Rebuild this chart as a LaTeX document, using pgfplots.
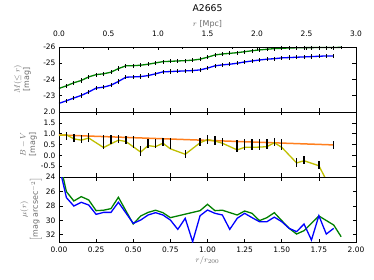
\documentclass[border=0pt]{standalone}
\usepackage{pgfplots}
\pgfplotsset{compat=1.18}
\usepackage{fontspec}
\setmainfont{DejaVu Sans}
\definecolor{mgreen}{rgb}{0,0.5,0}
\definecolor{mblue}{rgb}{0,0,1}
\definecolor{morange}{RGB}{255,127,30}
\definecolor{myellow}{RGB}{191,191,0}
\definecolor{lab}{gray}{0.42}
\begin{document}
\begin{tikzpicture}
\useasboundingbox (-59bp,-38bp) rectangle (315bp,242bp);
\pgfplotsset{panel/.style={anchor=south west, width=297bp, height=65bp, scale only axis,
  xmin=0, xmax=2, xtick={0,0.25,...,2}, tick align=inside,
  major tick length=3.5bp, minor tick length=2bp,
  ticklabel style={font=\fontsize{7.5}{9}\selectfont},
  axis line style={line width=0.8bp},
  every tick/.style={black, line width=0.6bp},
  label style={font=\fontsize{8}{9.5}\selectfont, text=lab, align=center},
  ylabel style={anchor=south, inner sep=0pt},
  clip=true}}
% ---------- top panel
\begin{axis}[panel, at={(0,130bp)}, y dir=reverse, ymin=-26, ymax=-22,
  ytick={-26,-25,-24,-23}, yticklabels={-26,-25,-24,-23},
  xticklabels={}, xtick pos=bottom,
  ylabel={$M(\leq r)$\\{[mag]}}, ylabel style={at={(axis description cs:-0.094,0.5)}}]
\addplot[mgreen, line width=1.3bp, error bars/.cd, y dir=both, y fixed=0.13, error mark=none,
  error bar style={black, line width=0.7bp}] coordinates {
(0.00,-23.45) (0.05,-23.61) (0.10,-23.80) (0.15,-23.94) (0.20,-24.16) (0.25,-24.30)
(0.30,-24.35) (0.35,-24.45) (0.40,-24.67) (0.45,-24.84) (0.50,-24.85) (0.55,-24.88)
(0.60,-24.94) (0.65,-25.02) (0.70,-25.10) (0.75,-25.12) (0.80,-25.14) (0.85,-25.16)
(0.90,-25.19) (0.95,-25.25) (1.00,-25.37) (1.05,-25.51) (1.10,-25.57) (1.15,-25.61)
(1.20,-25.65) (1.25,-25.71) (1.30,-25.77) (1.35,-25.82) (1.40,-25.86) (1.45,-25.90)
(1.50,-25.92) (1.55,-25.94) (1.60,-25.95) (1.65,-25.96) (1.70,-25.96) (1.75,-25.97)
(1.80,-25.97) (1.85,-25.97) (1.90,-25.98)};
\addplot[mblue, line width=1.3bp, error bars/.cd, y dir=both, y fixed=0.13, error mark=none,
  error bar style={black, line width=0.7bp}] coordinates {
(0.00,-22.53) (0.05,-22.69) (0.10,-22.86) (0.15,-23.02) (0.20,-23.23) (0.25,-23.47)
(0.30,-23.53) (0.35,-23.65) (0.40,-23.88) (0.45,-24.14) (0.50,-24.16) (0.55,-24.18)
(0.60,-24.24) (0.65,-24.35) (0.70,-24.47) (0.75,-24.49) (0.80,-24.51) (0.85,-24.53)
(0.90,-24.55) (0.95,-24.59) (1.00,-24.70) (1.05,-24.84) (1.10,-24.90) (1.15,-24.94)
(1.20,-25.00) (1.25,-25.08) (1.30,-25.14) (1.35,-25.20) (1.40,-25.25) (1.45,-25.28)
(1.50,-25.33) (1.55,-25.35) (1.60,-25.37) (1.65,-25.39) (1.70,-25.41) (1.75,-25.43)
(1.80,-25.45) (1.85,-25.45)};
\end{axis}
% ---------- top Mpc axis
\begin{axis}[at={(0,130bp)}, anchor=south west, width=297bp, height=65bp, scale only axis,
  xmin=0, xmax=3, ymin=0, ymax=1, axis x line*=top, axis y line=none,
  xtick={0,0.5,...,3}, xticklabels={0.0,0.5,1.0,1.5,2.0,2.5,3.0}, minor x tick num=1,
  tick align=inside, major tick length=3.5bp, minor tick length=2bp,
  every tick/.style={black, line width=0.6bp},
  axis line style={line width=0.8bp},
  ticklabel style={font=\fontsize{7.5}{9}\selectfont},
  xticklabel style={yshift=7bp},
  xlabel={$r$ [Mpc]}, xlabel style={font=\fontsize{8}{9.5}\selectfont, text=lab, at={(axis description cs:0.5,1)}, anchor=base, yshift=20bp, inner sep=0pt},
  title={A2665}, title style={font=\fontsize{9.3}{11}\selectfont, at={(axis description cs:0.5,1)}, anchor=base, yshift=30bp, inner sep=0pt}]
\end{axis}
% ---------- middle panel
\begin{axis}[panel, at={(0,65bp)}, ymin=-1, ymax=2,
  ytick={-0.5,0,0.5,1,1.5,2}, yticklabels={-0.5,0.0,0.5,1.0,1.5,2.0},
  xticklabels={},
  ylabel={$B-V$\\{[mag]}}, ylabel style={at={(axis description cs:-0.074,0.5)}}]
\addplot[morange, line width=1.5bp] coordinates {(0,0.94) (0.5,0.815) (1.0,0.69) (1.5,0.565) (1.85,0.48)};
\addplot[myellow, line width=1.3bp] coordinates {
(0.00,0.92) (0.05,0.95) (0.10,0.76) (0.15,0.70) (0.20,0.80) (0.30,0.36) (0.40,0.70)
(0.45,0.64) (0.55,0.15) (0.60,0.45) (0.65,0.40) (0.70,0.56) (0.75,0.30) (0.85,0.05)
(0.95,0.58) (1.00,0.73) (1.05,0.66) (1.10,0.56) (1.20,0.25) (1.25,0.37) (1.30,0.37)
(1.35,0.38) (1.40,0.40) (1.45,0.58) (1.50,0.37) (1.60,-0.35) (1.65,-0.25) (1.75,-0.48)
(1.85,-1.8)};
\addplot[draw=none, mark=none, error bars/.cd, y dir=both, y explicit, error mark=none,
  error bar style={draw=black, solid, line width=1.4bp}] table[x=x, y=y, y error=e] {
x y e
0.05 0.90 0.19
0.10 0.80 0.20
0.15 0.75 0.20
0.20 0.82 0.20
0.30 0.60 0.33
0.35 0.72 0.20
0.40 0.75 0.20
0.45 0.70 0.20
0.50 0.60 0.28
0.55 0.20 0.23
0.60 0.55 0.22
0.65 0.55 0.22
0.70 0.62 0.20
0.75 0.55 0.25
0.85 0.07 0.18
0.95 0.62 0.20
1.00 0.72 0.20
1.05 0.68 0.20
1.10 0.62 0.20
1.20 0.45 0.28
1.25 0.50 0.25
1.30 0.50 0.25
1.35 0.50 0.25
1.40 0.52 0.25
1.45 0.62 0.20
1.50 0.50 0.25
1.60 -0.33 0.20
1.65 -0.22 0.20
1.75 -0.45 0.20
1.85 0.48 0.20
};
\end{axis}
% ---------- bottom panel
\begin{axis}[panel, at={(0,0)}, y dir=reverse, ymin=24, ymax=33,
  ytick={24,26,28,30,32}, yticklabels={24,26,28,30,32},
  xticklabels={0.00,0.25,0.50,0.75,1.00,1.25,1.50,1.75,2.00},
  xticklabel style={yshift=-1.5bp},
  xlabel={$r/r_{200}$}, xlabel style={at={(axis description cs:0.5,0)}, anchor=base, yshift=-20bp, inner sep=0pt},
  ylabel={$\mu(r)$\\{$\big[$mag arcsec$^{-2}\big]$}}, ylabel style={at={(axis description cs:-0.057,0.5)}}]
\addplot[mgreen, line width=1.3bp] coordinates {
(0.00,21.5) (0.05,26.03) (0.10,27.32) (0.15,26.72) (0.20,27.18) (0.25,28.66) (0.30,28.60)
(0.35,28.38) (0.40,26.81) (0.50,30.51) (0.55,29.40) (0.60,28.90) (0.65,28.60) (0.70,28.94)
(0.75,29.63) (0.95,28.66) (1.00,27.78) (1.05,28.66) (1.10,28.60) (1.20,29.26) (1.25,28.71)
(1.30,29.03) (1.35,30.04) (1.40,29.63) (1.45,28.94) (1.50,30.04) (1.55,31.11) (1.60,31.90)
(1.65,31.43) (1.75,29.40) (1.85,30.65) (1.90,32.27)};
\addplot[mblue, line width=1.3bp] coordinates {
(0.00,22.4) (0.05,26.86) (0.10,28.02) (0.15,27.50) (0.20,27.88) (0.25,29.17) (0.30,28.90)
(0.35,28.90) (0.40,27.50) (0.50,30.42) (0.55,29.96) (0.60,29.26) (0.65,28.94) (0.70,29.26)
(0.75,29.96) (0.80,31.25) (0.85,29.72) (0.90,32.96) (0.95,29.36) (1.00,28.57) (1.05,29.03)
(1.10,29.26) (1.15,31.25) (1.20,29.72) (1.25,29.03) (1.30,29.63) (1.35,30.19) (1.40,30.19)
(1.45,29.56) (1.50,30.19) (1.55,31.11) (1.60,31.57) (1.65,30.51) (1.70,32.73) (1.75,29.36)
(1.80,31.90) (1.85,31.11)};
\end{axis}
\end{tikzpicture}
\end{document}
